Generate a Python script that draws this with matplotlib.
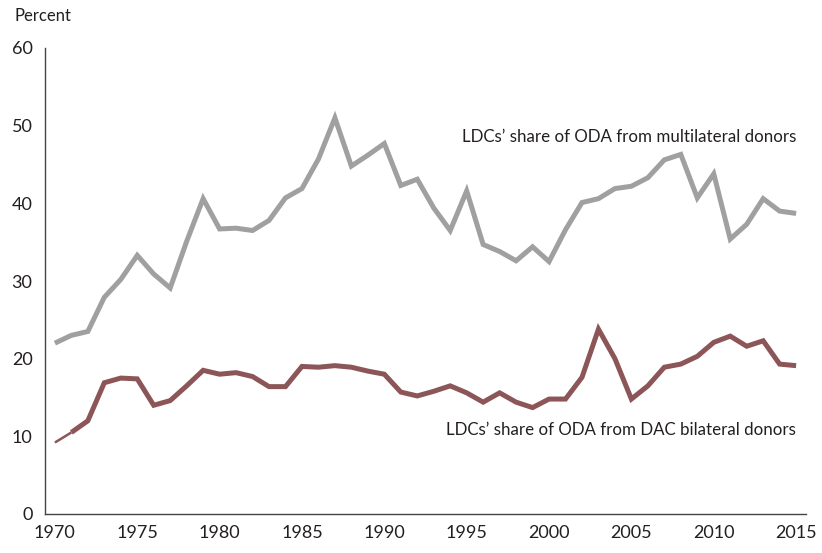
import matplotlib
matplotlib.use("Agg")
import matplotlib.pyplot as plt

years = list(range(1970, 2016))

multilateral = [22.0, 23.0, 23.5, 27.9, 30.2, 33.3, 30.9, 29.1, 35.1, 40.6,
                36.7, 36.8, 36.5, 37.8, 40.7, 41.9, 45.7, 51.0, 44.8, 46.2,
                47.7, 42.3, 43.1, 39.4, 36.5, 41.6, 34.7, 33.8, 32.6, 34.4,
                32.5, 36.6, 40.1, 40.6, 41.9, 42.2, 43.3, 45.6, 46.3, 40.7,
                43.8, 35.4, 37.3, 40.6, 39.0, 38.7]

dac_bilateral = [9.2, 10.5, 12.0, 16.9, 17.5, 17.4, 14.0, 14.6, 16.5, 18.5,
                 18.0, 18.2, 17.7, 16.4, 16.4, 19.0, 18.9, 19.1, 18.9, 18.4,
                 18.0, 15.7, 15.2, 15.8, 16.5, 15.6, 14.4, 15.6, 14.4, 13.7,
                 14.8, 14.8, 17.6, 23.8, 20.0, 14.8, 16.5, 18.9, 19.3, 20.3,
                 22.1, 22.9, 21.6, 22.3, 19.3, 19.1]

xticks = [1970, 1975, 1980, 1985, 1990, 1995, 2000, 2005, 2010, 2015]
yticks = [0, 10, 20, 30, 40, 50, 60]

label_multi = "LDCs\u2019 share of ODA from multilateral donors"
label_dac = "LDCs\u2019 share of ODA from DAC bilateral donors"

plt.rcParams['font.family'] = ['Lato', 'DejaVu Sans']

GRAY = "#a0a0a0"
RED = "#8c5659"
TXT = "#231f20"

fig = plt.figure(figsize=(8.22, 5.53), dpi=100)
ax = fig.add_axes([45/822, 1 - 514/553, (806 - 45)/822, (514 - 48)/553])

ax.plot(years, multilateral, color=GRAY, lw=3.6, solid_joinstyle='miter', solid_capstyle='butt')
ax.plot(years[:2], dac_bilateral[:2], color=RED, lw=1.8, solid_capstyle='butt')
ax.plot(years[1:], dac_bilateral[1:], color=RED, lw=3.6, solid_joinstyle='miter', solid_capstyle='butt')

ax.set_xlim(1969.4, 2015.6)
ax.set_ylim(0, 60)
ax.set_xticks(xticks)
ax.set_xticklabels([str(t) for t in xticks])
ax.set_yticks(yticks)
ax.set_yticklabels([str(t) for t in yticks])
ax.tick_params(axis='both', length=0, labelsize=13, labelcolor=TXT)
ax.tick_params(axis='y', pad=9)
ax.tick_params(axis='x', pad=8)

for s in ['top', 'right']:
    ax.spines[s].set_visible(False)
for s in ['left', 'bottom']:
    ax.spines[s].set_color("#444444")
    ax.spines[s].set_linewidth(1.0)

ax.text(2015, 48.5, label_multi, ha='right', va='center', fontsize=12.2, color=TXT)
ax.text(2015, 10.8, label_dac, ha='right', va='center', fontsize=12.2, color=TXT)

fig.text(15/822, 1 - 16/553, "Percent", ha='left', va='center', fontsize=12, color=TXT)

fig.savefig("out.png", dpi=100)
